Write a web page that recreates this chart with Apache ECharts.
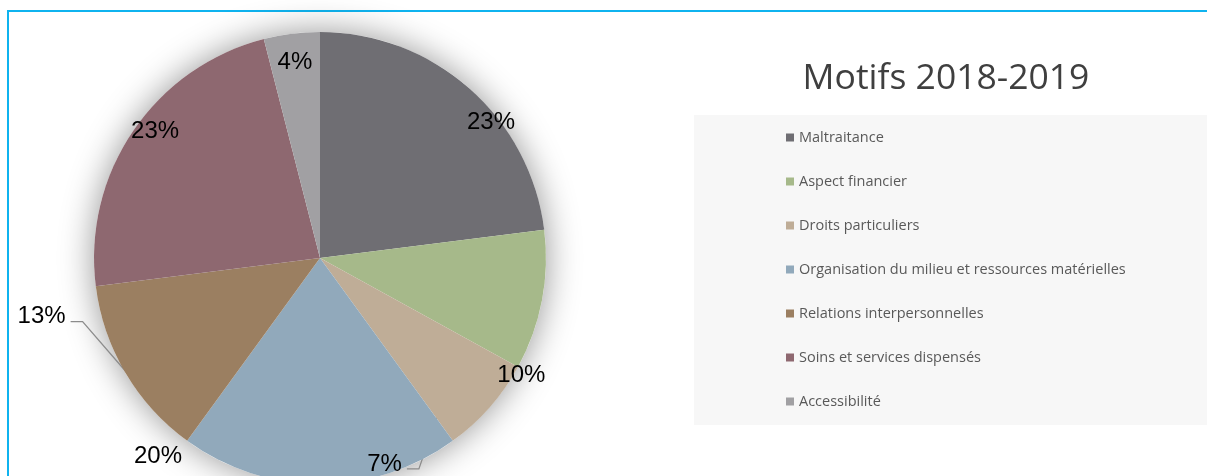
<!DOCTYPE html>
<html>
<head>
<meta charset="utf-8">
<title>Motifs 2018-2019</title>
<script src="https://cdn.jsdelivr.net/npm/echarts@6/dist/echarts.min.js"></script>
<style>
  html, body { margin: 0; padding: 0; background: #ffffff; overflow: hidden; }
  #frame {
    position: absolute; left: 7px; top: 10px; width: 1400px; height: 700px;
    border: 2px solid #0fb3ef; box-sizing: border-box;
  }
  #chart { position: absolute; left: 0; top: 0; width: 1207px; height: 476px; }
</style>
</head>
<body>
<div id="frame"></div>
<div id="chart"></div>
<script>
// Motif categories and their share (%)
const categories = [
  'Maltraitance',
  'Aspect financier',
  'Droits particuliers',
  'Organisation du milieu et ressources matérielles',
  'Relations interpersonnelles',
  'Soins et services dispensés',
  'Accessibilité'
];
const shares = [23, 10, 7, 20, 13, 23, 4];
const sliceColors = ['#6f6e73', '#a6b98a', '#bfad97', '#91a9bb', '#9b7f61', '#8e6870', '#a1a0a3'];

// Pie geometry
const pieCenter = [320, 258];
const pieRadius = 226;

// Label anchors: [angle in degrees clockwise from 12 o'clock, distance as a fraction of the radius]
const labelAnchors = [
  [51.5, 0.967], [120.3, 1.032], [162.6, 0.955], [219.3, 1.132],
  [258.1, 1.259], [307.6, 0.921], [352.7, 0.874]
];
// Leader lines: slice index -> point on the slice [angle, fraction of radius]
const leaderTargets = { 2: [143.8, 0.874], 4: [239.6, 0.995] };

function polar(angleDeg, frac) {
  const a = angleDeg * Math.PI / 180;
  return [pieCenter[0] + Math.sin(a) * pieRadius * frac,
          pieCenter[1] - Math.cos(a) * pieRadius * frac];
}

const pieData = categories.map((name, i) => ({
  name: name,
  value: shares[i],
  itemStyle: { color: sliceColors[i] },
  labelLine: { show: leaderTargets[i] !== undefined }
}));

const chart = echarts.init(document.getElementById('chart'), null, { renderer: 'canvas' });

chart.setOption({
  animation: false,
  backgroundColor: 'transparent',
  title: {
    text: 'Motifs 2018-2019',
    left: 941,
    top: 56,
    textAlign: 'center',
    textStyle: {
      fontFamily: 'Open Sans',
      fontSize: 35.5,
      fontWeight: 'normal',
      color: '#3f3f3f'
    }
  },
  legend: {
    data: categories,
    orient: 'vertical',
    left: 694,
    top: 115,
    padding: [15, 200, 16, 92],
    backgroundColor: '#f7f7f7',
    icon: 'rect',
    itemWidth: 8,
    itemHeight: 8,
    itemGap: 29,
    selectedMode: false,
    textStyle: {
      fontFamily: 'Open Sans',
      fontSize: 14.5,
      lineHeight: 14,
      color: '#595959'
    }
  },
  series: [
    {
      // soft shadow under the pie
      type: 'pie',
      silent: true,
      center: pieCenter,
      radius: pieRadius,
      z: 1,
      label: { show: false },
      labelLine: { show: false },
      itemStyle: {
        color: '#ffffff',
        shadowBlur: 34,
        shadowColor: 'rgba(0,0,0,0.42)'
      },
      emphasis: { disabled: true },
      data: [{ value: 1, name: '' }]
    },
    {
      type: 'pie',
      name: 'Motifs 2018-2019',
      center: pieCenter,
      radius: pieRadius,
      startAngle: 90,
      clockwise: true,
      z: 2,
      avoidLabelOverlap: false,
      itemStyle: { borderWidth: 0 },
      emphasis: { disabled: true },
      label: {
        show: true,
        position: 'outside',
        formatter: p => p.value + '%',
        fontFamily: 'Liberation Sans',
        fontSize: 24,
        color: '#000000'
      },
      labelLine: {
        lineStyle: { color: '#8c8c8c', width: 1.3 }
      },
      labelLayout: function (params) {
        const i = params.dataIndex;
        const pos = polar(labelAnchors[i][0], labelAnchors[i][1]);
        const out = { x: pos[0], y: pos[1], align: 'center', verticalAlign: 'middle' };
        const target = leaderTargets[i];
        if (target) {
          const halfW = params.labelRect.width / 2;
          const sx = pos[0] + halfW + 5;
          const sy = pos[1] + 5;
          out.labelLinePoints = [[sx, sy], [sx + 12, sy], polar(target[0], target[1])];
        }
        return out;
      },
      data: pieData
    }
  ]
});
</script>
</body>
</html>
